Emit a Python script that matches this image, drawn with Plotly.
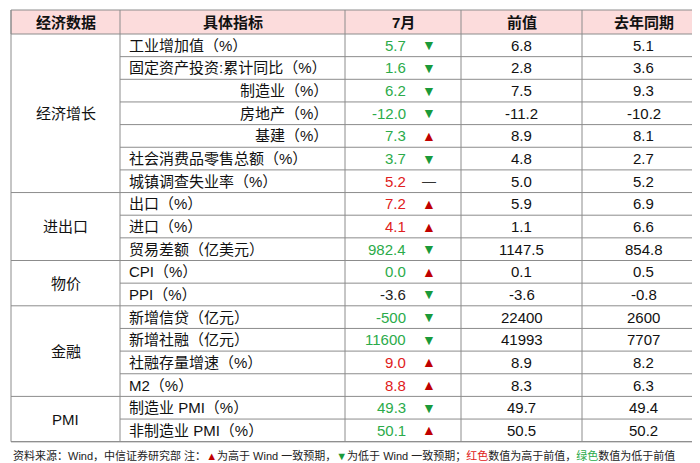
import plotly.graph_objects as go

groups = ["经济增长", "进出口", "物价", "金融", "PMI"]
group_rows = [7, 3, 2, 4, 2]
indicators = ["工业增加值（%）", "固定资产投资:累计同比（%）", "制造业（%）", "房地产（%）", "基建（%）",
              "社会消费品零售总额（%）", "城镇调查失业率（%）", "出口（%）", "进口（%）", "贸易差额（亿美元）",
              "CPI（%）", "PPI（%）", "新增信贷（亿元）", "新增社融（亿元）", "社融存量增速（%）", "M2（%）",
              "制造业 PMI（%）", "非制造业 PMI（%）"]
sub_items = [2, 3, 4]
july = ["5.7", "1.6", "6.2", "-12.0", "7.3", "3.7", "5.2", "7.2", "4.1", "982.4", "0.0", "-3.6",
        "-500", "11600", "9.0", "8.8", "49.3", "50.1"]
july_color = ["g", "g", "g", "g", "g", "g", "r", "r", "r", "g", "g", "k", "g", "g", "r", "r", "g", "g"]
arrows = ["down", "down", "down", "down", "up", "down", "flat", "up", "up", "down", "up", "down",
          "down", "down", "up", "up", "down", "up"]
prev = ["6.8", "2.8", "7.5", "-11.2", "8.9", "4.8", "5.0", "5.9", "1.1", "1147.5", "0.1", "-3.6",
        "22400", "41993", "8.9", "8.3", "49.7", "50.5"]
last_year = ["5.1", "3.6", "9.3", "-10.2", "8.1", "2.7", "5.2", "6.9", "6.6", "854.8", "0.5", "-0.8",
             "2600", "7707", "8.2", "6.3", "49.4", "50.2"]
headers = ["经济数据", "具体指标", "7月", "前值", "去年同期"]
footnote_parts = [("资料来源：Wind，中信证券研究部 注：", "#222"), ("▲", "#c00000"), ("为高于 Wind 一致预期，", "#222"),
                  ("▼", "#1a9a3a"), ("为低于 Wind 一致预期；", "#222"), ("红色", "#e02020"),
                  ("数值为高于前值，", "#222"), ("绿色", "#2bab4a"), ("数值为低于前值", "#222")]

cols = [3, 112, 337, 453, 574, 697]
top, head_h, row_h = 2, 24, 22.65
FONT = "Liberation Sans, Noto Sans CJK SC"
colors = {"g": "#2bab4a", "r": "#e02020", "k": "#222"}
line = dict(color="#8c8c8c", width=1)
FS = 15

fig = go.Figure()
shapes, ann = [], []
shapes.append(dict(type="rect", x0=cols[0], x1=cols[-1], y0=top, y1=top + head_h,
                   fillcolor="#fcdcdc", line=line, layer="below"))
for i, h in enumerate(headers):
    ann.append(dict(x=(cols[i] + cols[i + 1]) / 2, y=top + head_h / 2, text="<b>%s</b>" % h,
                    showarrow=False, font=dict(size=FS, color="#111", family=FONT)))

y0 = top + head_h
bottom = y0 + row_h * len(indicators)
for c in cols:
    shapes.append(dict(type="line", x0=c, x1=c, y0=top, y1=bottom, line=line))
shapes.append(dict(type="line", x0=cols[0], x1=cols[-1], y0=bottom, y1=bottom, line=line))

r = 0
for g, n in zip(groups, group_rows):
    gy0 = y0 + r * row_h
    ann.append(dict(x=(cols[0] + cols[1]) / 2, y=gy0 + n * row_h / 2, text=g, showarrow=False,
                    font=dict(size=FS, color="#111", family=FONT)))
    for k in range(1, n):
        yy = gy0 + k * row_h
        shapes.append(dict(type="line", x0=cols[1], x1=cols[-1], y0=yy, y1=yy, line=line))
    r += n
    yy = y0 + r * row_h
    shapes.append(dict(type="line", x0=cols[0], x1=cols[-1], y0=yy, y1=yy, line=line))

for i, name in enumerate(indicators):
    cy = y0 + (i + 0.5) * row_h
    if i in sub_items:
        ann.append(dict(x=322, y=cy, text=name, xanchor="right", showarrow=False,
                        font=dict(size=FS, color="#111", family=FONT)))
    else:
        ann.append(dict(x=119, y=cy, text=name, xanchor="left", showarrow=False,
                        font=dict(size=FS, color="#111", family=FONT)))
    ann.append(dict(x=400, y=cy, text=july[i], xanchor="right", showarrow=False,
                    font=dict(size=FS, color=colors[july_color[i]], family=FONT)))
    sym = {"up": "▲", "down": "▼", "flat": "—"}[arrows[i]]
    acol = {"up": "#c00000", "down": "#1a9a3a", "flat": "#333"}[arrows[i]]
    ann.append(dict(x=421, y=cy, text=sym, showarrow=False, font=dict(size=14, color=acol, family=FONT)))
    ann.append(dict(x=(cols[3] + cols[4]) / 2, y=cy, text=prev[i], showarrow=False,
                    font=dict(size=FS, color="#111", family=FONT)))
    ann.append(dict(x=(cols[4] + cols[5]) / 2, y=cy, text=last_year[i], showarrow=False,
                    font=dict(size=FS, color="#111", family=FONT)))

foot = "".join('<span style="color:%s">%s</span>' % (c, t) for t, c in footnote_parts)
ann.append(dict(x=3, y=447, text=foot, xanchor="left", yanchor="middle", showarrow=False,
                font=dict(size=11, color="#222", family=FONT)))

fig.update_layout(width=700, height=463, margin=dict(l=0, r=0, t=0, b=0),
                  plot_bgcolor="white", paper_bgcolor="white", shapes=shapes, annotations=ann,
                  xaxis=dict(range=[0, 700], visible=False, fixedrange=True),
                  yaxis=dict(range=[463, 0], visible=False, fixedrange=True), showlegend=False)
fig.write_html("out.html")
